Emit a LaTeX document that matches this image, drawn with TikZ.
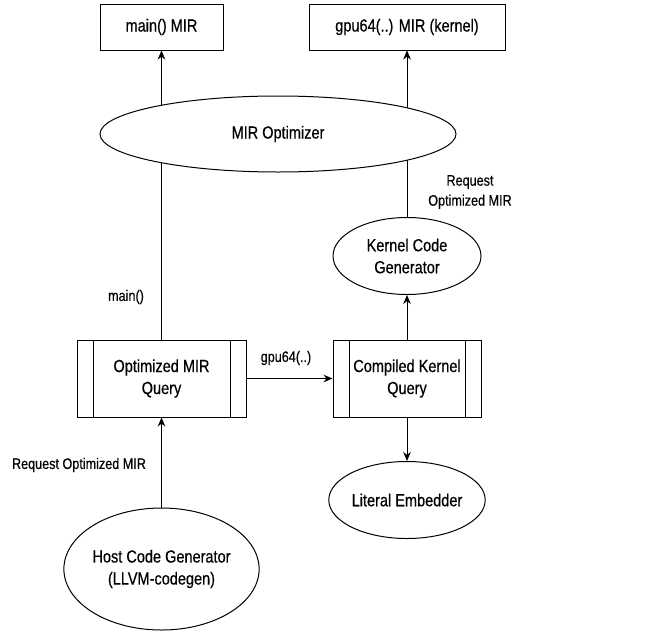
\documentclass[tikz,border=0pt]{standalone}
\usepackage{fontspec}
\setmainfont{Liberation Sans}[FakeStretch=0.83,FakeBold=0.4]
\usetikzlibrary{shapes.geometric,arrows.meta,backgrounds}

\begin{document}
\begin{tikzpicture}[x=1pt, y=-1pt, line width=1pt,
    >={Stealth[length=9pt,width=7.5pt]},
    every node/.style={font=\fontsize{17.5}{22}\selectfont, align=center, inner sep=0pt},
    box/.style={draw, rectangle, fill=white, minimum height=46pt},
    oval/.style={draw, ellipse, fill=white},
    process/.style={draw, rectangle, fill=white, minimum height=77pt,
      path picture={
        \draw ([xshift=16pt]path picture bounding box.north west) -- ([xshift=16pt]path picture bounding box.south west);
        \draw ([xshift=-16pt]path picture bounding box.north east) -- ([xshift=-16pt]path picture bounding box.south east);
      }},
    elabel/.style={font=\fontsize{15.2}{20}\selectfont}]
      \useasboundingbox (0,0) rectangle (652,632);

      % outputs
      \node [box, minimum width=123pt] (mainmir) at (161.5, 27) {main() MIR};
      \node [box, minimum width=196pt] (gpumir) at (407, 27) {gpu64(..) MIR (kernel)};

      \node [oval, minimum width=356pt, minimum height=76pt] (optimizer) at (278, 134) {MIR Optimizer};
      \node [oval, minimum width=148pt, minimum height=77pt] (kcg) at (407, 256) {Kernel Code\\Generator};

      % queries
      \node [process, minimum width=169pt] (optq) at (161.5, 378.5) {Optimized MIR\\Query};
      \node [process, minimum width=148pt] (ckq) at (407, 378.5) {Compiled Kernel\\Query};

      \node [oval, minimum width=148pt, minimum height=77pt] (lit) at (407, 500) {Literal Embedder};
      \node [oval, minimum width=147pt, minimum height=122pt] (hcg) at (161.5, 569) {Host Code Generator\\(LLVM-codegen)};

      \begin{scope}[on background layer]
        \draw [->] (optq.north) -- (mainmir.south);
        \draw [->] (kcg.north) -- (gpumir.south);
      \end{scope}
      \draw [->] (optq.east) -- (ckq.west);
      \draw [->] (ckq.north) -- (kcg.south);
      \draw [->] (ckq.south) -- (lit.north);
      \draw [->] (hcg.north) -- (optq.south);

      % edge labels
      \node [elabel] (lmain) at (126, 297) {main()};
      \node [elabel] (lgpu) at (286, 358) {gpu64(..)};
      \node [elabel] (lreqhost) at (79, 465) {Request Optimized MIR};
      \node [elabel] (lreqkern) at (470, 192) {Request\\Optimized MIR};
    \end{tikzpicture}
\end{document}
